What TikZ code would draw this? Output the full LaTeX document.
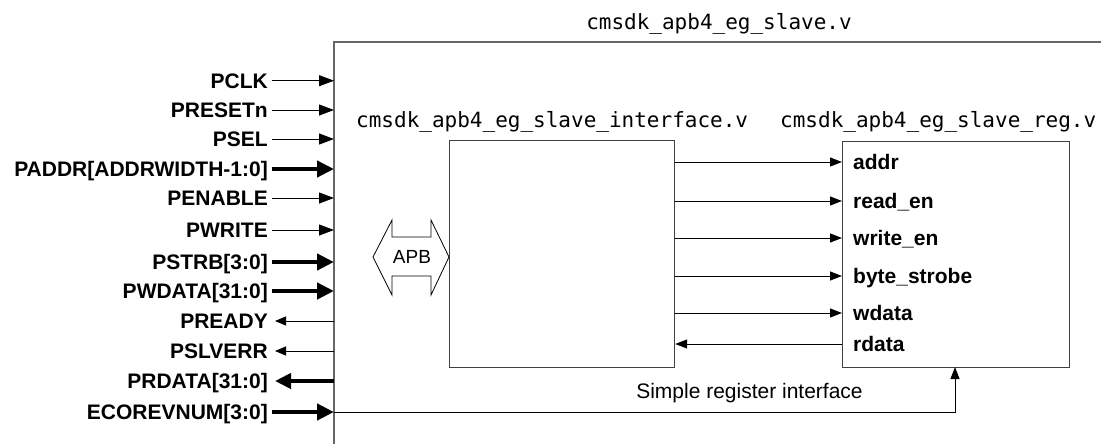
\documentclass[tikz,border=0pt]{standalone}
\usepackage{fontspec}
\setmainfont{Liberation Sans}
\newfontfamily\monof{DejaVu Sans Mono}
\usetikzlibrary{arrows.meta,calc}
\begin{document}
\begin{tikzpicture}[x=1pt,y=-1pt,
  lsig/.style={font={\fontsize{21}{24}\selectfont\bfseries}, text height=15pt, text depth=0pt, inner sep=0pt, anchor=east},
  rsig/.style={font={\fontsize{21}{24}\selectfont\bfseries}, text height=15pt, text depth=0pt, inner sep=0pt, anchor=west},
  mono/.style={font={\fontsize{21}{24}\selectfont\monof}, inner sep=0pt, anchor=base west},
  modbox/.style={draw=black!75, line width=1.2pt, inner sep=0pt},
  thinin/.style={-{Triangle[length=15pt,width=11pt]}, line width=1pt, shorten <=4pt},
  thickin/.style={-{Triangle[length=17pt,width=16pt]}, line width=4.5pt, shorten <=4pt},
  thinout/.style={-{Triangle[length=11pt,width=9pt]}, line width=1pt, shorten >=7pt},
  thickout/.style={-{Triangle[length=16pt,width=15pt]}, line width=4.5pt, shorten >=7pt},
  intarrow/.style={-{Triangle[length=12pt,width=9pt]}, line width=1pt}
]
\useasboundingbox (0,0) rectangle (1101,444);

% outer module (open to the right and bottom)
\coordinate (boxL) at (334,42);
\draw[draw=black!60, line width=1.5pt] (334,450) -- (boxL) -- (1110,42);
\node[mono, anchor=base] (title) at (719,30) {cmsdk\_apb4\_eg\_slave.v};

% left-side signal labels
\node[lsig] (pclk)    at (268,80.7) {PCLK};
\node[lsig] (preset)  at (268,110)  {PRESETn};
\node[lsig] (psel)    at (268,139)  {PSEL};
\node[lsig] (paddr)   at (268,169)  {PADDR[ADDRWIDTH-1:0]};
\node[lsig] (penable) at (268,198)  {PENABLE};
\node[lsig] (pwrite)  at (268,230)  {PWRITE};
\node[lsig] (pstrb)   at (268,262)  {PSTRB[3:0]};
\node[lsig] (pwdata)  at (268,291)  {PWDATA[31:0]};
\node[lsig] (pready)  at (268,321)  {PREADY};
\node[lsig] (pslverr) at (268,351)  {PSLVERR};
\node[lsig] (prdata)  at (268,381)  {PRDATA[31:0]};
\node[lsig] (ecore)   at (268,412)  {ECOREVNUM[3:0]};

\draw[thinin]  (pclk.east)    -- (pclk.east -| boxL);
\draw[thinin]  (preset.east)  -- (preset.east -| boxL);
\draw[thinin]  (psel.east)    -- (psel.east -| boxL);
\draw[thickin] (paddr.east)   -- (paddr.east -| boxL);
\draw[thinin]  (penable.east) -- (penable.east -| boxL);
\draw[thinin]  (pwrite.east)  -- (pwrite.east -| boxL);
\draw[thickin] (pstrb.east)   -- (pstrb.east -| boxL);
\draw[thickin] (pwdata.east)  -- (pwdata.east -| boxL);
\draw[thinout] (pready.east -| boxL)  -- (pready.east);
\draw[thinout] (pslverr.east -| boxL) -- (pslverr.east);
\draw[thickout] (prdata.east -| boxL) -- (prdata.east);
\draw[thickin] (ecore.east)   -- (ecore.east -| boxL);

% sub-modules
\node[modbox, anchor=north west, minimum width=225pt, minimum height=227pt] (ifc) at (449,140) {};
\node[mono] (ifclbl) at (356,128) {cmsdk\_apb4\_eg\_slave\_interface.v};
\node[modbox, anchor=north west, minimum width=227pt, minimum height=226pt] (reg) at (842,141) {};
\node[mono] (reglbl) at (780,128) {cmsdk\_apb4\_eg\_slave\_reg.v};

% register-side ports
\node[rsig] (addr)   at (853,162) {addr};
\node[rsig] (readen) at (853,201) {read\_en};
\node[rsig] (writen) at (853,238) {write\_en};
\node[rsig] (bstrb)  at (853,276) {byte\_strobe};
\node[rsig] (wdata)  at (853,313) {wdata};
\node[rsig] (rdata)  at (853,344) {rdata};

\draw[intarrow] (addr.west -| ifc.east)   -- (addr.west -| reg.west);
\draw[intarrow] (readen.west -| ifc.east) -- (readen.west -| reg.west);
\draw[intarrow] (writen.west -| ifc.east) -- (writen.west -| reg.west);
\draw[intarrow] (bstrb.west -| ifc.east)  -- (bstrb.west -| reg.west);
\draw[intarrow] (wdata.west -| ifc.east)  -- (wdata.west -| reg.west);
\draw[intarrow] (rdata.west -| reg.west)  -- (rdata.west -| ifc.east);

% ECOREVNUM feed-through to register block
\coordinate (regin) at (955,367);
\draw[intarrow] (ecore.east -| boxL) -| (regin);
\node[font={\fontsize{21}{24}\selectfont}, inner sep=0pt] (sri) at (749.5,393) {Simple register interface};

% APB double arrow
\draw[line width=0.8pt, line join=miter] (373,257) -- (392,220) -- (392,237) -- (431,237) -- (431,220) -- (449,257)
  -- (431,295) -- (431,276) -- (392,276) -- (392,295) -- cycle;
\node[font={\fontsize{19}{22}\selectfont}, inner sep=0pt] (apb) at (412,257) {APB};
\end{tikzpicture}
\end{document}
